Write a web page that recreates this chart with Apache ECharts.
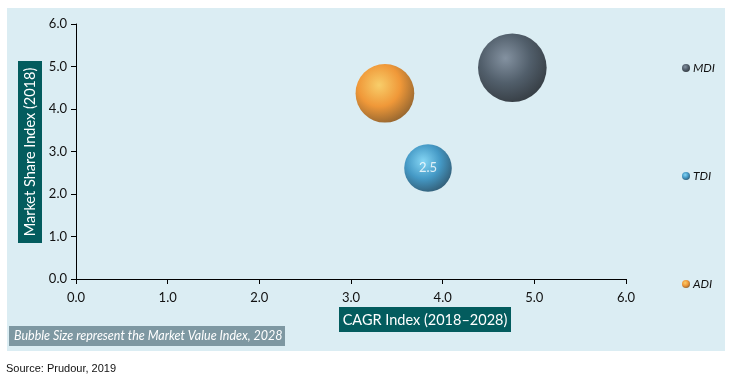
<!DOCTYPE html>
<html><head><meta charset="utf-8">
<script src="https://cdn.jsdelivr.net/npm/echarts@6/dist/echarts.min.js"></script>
<style>html,body{margin:0;padding:0;background:#fff}#c{width:740px;height:378px}</style>
</head><body><div id="c"></div>
<script>
// Data
const seriesNames = ['MDI', 'TDI', 'ADI'];
const cagrIndex = [4.76, 3.84, 3.37];      // x
const shareIndex = [4.97, 2.61, 4.37];     // y
const valueIndex = [5.2, 2.5, 3.8];        // bubble size
const showLabel = [false, true, false];
const axisTicks = [0, 1, 2, 3, 4, 5, 6];

const palettes = {
  MDI: ['#6e7b8c', '#2f3b49', '#0f141b'],
  TDI: ['#6fd0f5', '#1f84ba', '#0a3f5e'],
  ADI: ['#ffc648', '#f5830a', '#8a4800']
};
function sphere(p) {
  return {type: 'radial', x: 0.4, y: 0.36, r: 0.66,
    colorStops: [{offset: 0, color: p[0]}, {offset: 0.55, color: p[1]}, {offset: 1, color: p[2]}]};
}
const K = 30.1;
const font = 'Lato, "Open Sans", sans-serif';

const series = seriesNames.map((n, i) => ({
  name: n, type: 'scatter',
  data: [[cagrIndex[i], shareIndex[i], valueIndex[i]]],
  symbolSize: d => K * Math.sqrt(d[2]),
  itemStyle: {color: sphere(palettes[n])},
  label: {show: showLabel[i], position: 'inside', formatter: p => p.value[2].toFixed(1),
    color: '#fff', fontSize: 13, fontFamily: font},
  emphasis: {disabled: true}
}));

const legendTops = {MDI: 67, TDI: 175, ADI: 283};
const legends = seriesNames.map(n => ({
  data: [n], left: 677, top: legendTops[n] - 10, icon: 'circle', itemWidth: 8, itemHeight: 8,
  itemGap: 0, selectedMode: false,
  textStyle: {fontStyle: 'italic', fontSize: 12, color: '#111', fontFamily: font, padding: [0, 0, 0, -2]}
}));

const chart = echarts.init(document.getElementById('c'), null, {renderer: 'canvas'});
chart.setOption({
  animation: false,
  backgroundColor: '#ffffff',
  grid: {left: 76, right: 114, top: 24, bottom: 99},
  xAxis: {type: 'value', min: axisTicks[0], max: axisTicks[axisTicks.length - 1], interval: 1,
    splitLine: {show: false},
    axisLine: {show: true, onZero: false, lineStyle: {color: '#000', width: 1}},
    axisTick: {show: true, length: 5, lineStyle: {color: '#000'}},
    axisLabel: {formatter: v => v.toFixed(1), color: '#111', fontSize: 13, fontFamily: font, margin: 12}},
  yAxis: {type: 'value', min: axisTicks[0], max: axisTicks[axisTicks.length - 1], interval: 1,
    splitLine: {show: false},
    axisLine: {show: true, onZero: false, lineStyle: {color: '#000', width: 1}},
    axisTick: {show: true, length: 5, lineStyle: {color: '#000'}},
    axisLabel: {formatter: v => v.toFixed(1), color: '#111', fontSize: 13, fontFamily: font, margin: 9}},
  legend: legends,
  graphic: [
    {type: 'rect', z: -10, shape: {x: 7, y: 8, width: 718, height: 343}, style: {fill: '#dbedf3'}},
    {type: 'rect', shape: {x: 18, y: 61, width: 24, height: 182}, style: {fill: '#035c5e'}},
    {type: 'text', x: 30, y: 152, rotation: Math.PI / 2,
      style: {text: 'Market Share Index (2018)', fill: '#fff', fontSize: 14.5, fontFamily: font,
        align: 'center', verticalAlign: 'middle'}},
    {type: 'rect', shape: {x: 339, y: 307, width: 172, height: 25}, style: {fill: '#035c5e'}},
    {type: 'text', x: 425, y: 320,
      style: {text: 'CAGR Index (2018–2028)', fill: '#fff', fontSize: 14.5, fontFamily: font,
        align: 'center', verticalAlign: 'middle'}},
    {type: 'rect', shape: {x: 9, y: 326, width: 276, height: 20}, style: {fill: '#7e98a2'}},
    {type: 'text', x: 14, y: 336,
      style: {text: 'Bubble Size represent the Market Value Index, 2028', fill: '#fff', fontSize: 12.5,
        fontStyle: 'italic', fontFamily: font, align: 'left', verticalAlign: 'middle'}},
    {type: 'text', x: 6, y: 369,
      style: {text: 'Source: Prudour, 2019', fill: '#111', fontSize: 11, fontFamily: 'Arial, "Liberation Sans", sans-serif',
        align: 'left', verticalAlign: 'middle'}}
  ],
  series: series
});
</script></body></html>
